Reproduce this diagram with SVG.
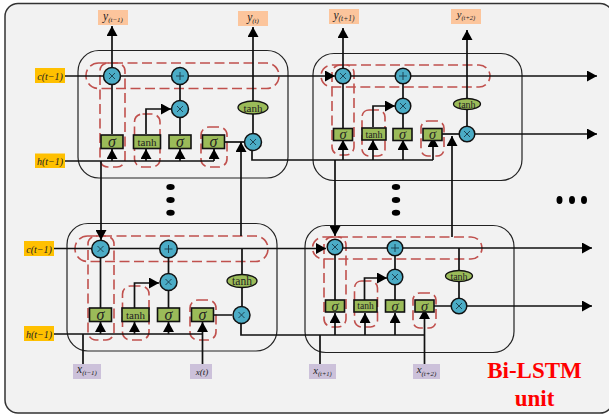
<svg xmlns="http://www.w3.org/2000/svg" width="609" height="416" viewBox="0 0 609 416">
<style>
text{font-family:"Liberation Serif","Times New Roman",serif;fill:#222;text-anchor:middle}
.i{font-style:italic}
.cell{fill:none;stroke:#222;stroke-width:1.2}
.dash{fill:none;stroke:#c0504d;stroke-width:1.6;stroke-dasharray:10 4.500}
.line{fill:none;stroke:#111;stroke-width:1.7}
.arrow{marker-end:url(#ah)}
.op{fill:#4bacc6;stroke:#111;stroke-width:1.5}
.glyph{fill:none;stroke:#1a3a4a;stroke-width:.9}
.box{fill:#9bbb59;stroke:#111;stroke-width:1.6}
.el{fill:#9bbb59;stroke:#111;stroke-width:1.3}
.y{fill:#fcc59c}.st{fill:#ffc000}.x{fill:#ccc1da}
.dot{fill:#000}
</style>
<defs>
<marker id="ah" markerUnits="userSpaceOnUse" markerWidth="11" markerHeight="11" refX="10" refY="5.500" orient="auto"><path d="M0 0L10 5.500L0 11Z" fill="#000"/></marker>
<g id="mul"><path class="glyph" d="M-3 -3L3 3M-3 3L3 -3"/></g>
<g id="add"><path class="glyph" d="M-4 0H4M0 -4V4"/></g>
</defs>
<rect x="5" y="3.500" width="608" height="409.500" rx="13" fill="#f2f2f2" stroke="#333" stroke-width="1.500"/>
<g id="cells">
<rect class="cell" x="78" y="50.500" width="210" height="127.500" rx="21"/>
<rect class="cell" x="313" y="53.500" width="209" height="127" rx="21"/>
<rect class="cell" x="67" y="223.500" width="210" height="127.500" rx="21"/>
<rect class="cell" x="305" y="225.500" width="209" height="127" rx="21"/>
</g>
<g id="regions">
<rect class="dash" x="86" y="63" width="193" height="25.500" rx="12.500"/>
<rect class="dash" x="100" y="63" width="25" height="104" rx="8"/>
<rect class="dash" x="134.500" y="114" width="25.500" height="53" rx="8"/>
<rect class="dash" x="201" y="127" width="26" height="40" rx="8"/>
<rect class="dash" x="321" y="65" width="169" height="22" rx="11"/>
<rect class="dash" x="332" y="65" width="22" height="90" rx="8"/>
<rect class="dash" x="362" y="110" width="23" height="46" rx="7"/>
<rect class="dash" x="421" y="121" width="23" height="35" rx="7"/>
<rect class="dash" x="75" y="236" width="193" height="25.500" rx="12.500"/>
<rect class="dash" x="88" y="236" width="26" height="104" rx="8"/>
<rect class="dash" x="122.500" y="286" width="26.500" height="54" rx="8"/>
<rect class="dash" x="190" y="300" width="26" height="40" rx="8"/>
<rect class="dash" x="312.500" y="237" width="169.500" height="22" rx="11"/>
<rect class="dash" x="324" y="237" width="22" height="90" rx="8"/>
<rect class="dash" x="354.500" y="281" width="23" height="46" rx="7"/>
<rect class="dash" x="413" y="293" width="23" height="35" rx="7"/>
</g>
<g id="connectors">
<path class="line arrow" d="M65 76H335"/>
<path class="line arrow" d="M343 76H597"/>
<path class="line arrow" d="M112 134V26"/>
<path class="line" d="M65 161H214"/>
<path class="line arrow" d="M112 161V149"/>
<path class="line arrow" d="M146 161V149"/>
<path class="line arrow" d="M180 161V149"/>
<path class="line arrow" d="M214 161V149"/>
<path class="line arrow" d="M146 134V109H171"/>
<path class="line" d="M180 134V85M253 134V100"/>
<path class="line arrow" d="M253 100V27"/>
<path class="line" d="M224 142H244"/>
<path class="line arrow" d="M241 236V142"/>
<path class="line" d="M252 151V160H433"/>
<path class="line arrow" d="M101 161V240"/>
<path class="line arrow" d="M343 128V28"/>
<path class="line arrow" d="M343 160V140"/>
<path class="line arrow" d="M373 160V140"/>
<path class="line arrow" d="M403 160V140"/>
<path class="line arrow" d="M433 160V137"/>
<path class="line arrow" d="M373 127V106H395"/>
<path class="line" d="M403 128V84M467 128V104"/>
<path class="line arrow" d="M467 104V30"/>
<path class="line" d="M442 134H459"/>
<path class="line arrow" d="M452 237V136"/>
<path class="line arrow" d="M467 134H597"/>
<path class="line arrow" d="M335 160V236"/>
<path class="line arrow" d="M54 248.500H326"/>
<path class="line arrow" d="M335 248H592"/>
<path class="line" d="M54 334H202M83 334V364"/>
<path class="line arrow" d="M100.500 334V322"/>
<path class="line arrow" d="M134.500 334V322"/>
<path class="line arrow" d="M168.500 334V322"/>
<path class="line arrow" d="M202.500 364V322"/>
<path class="line arrow" d="M134.500 308V283H159"/>
<path class="line" d="M100.500 308V258M168.500 308V258M242 306V249M213 315H232"/>
<path class="line" d="M241 324V335H424"/>
<path class="line" d="M320 335V364"/>
<path class="line arrow" d="M335 335V313"/>
<path class="line arrow" d="M365 335V313"/>
<path class="line arrow" d="M395 335V313"/>
<path class="line arrow" d="M424.500 364V309"/>
<path class="line arrow" d="M364.500 300V278H387"/>
<path class="line" d="M335 300V255M395 300V256M459 298V248M434 306H451"/>
<path class="line arrow" d="M459 306H592"/>
</g>
<g id="mul1"><circle class="op" cx="112" cy="76" r="8.500"/><use href="#mul" x="112" y="76"/></g>
<g id="add1"><circle class="op" cx="180" cy="76" r="8.500"/><use href="#add" x="180" y="76"/></g>
<g id="mul2"><circle class="op" cx="180" cy="109" r="8.500"/><use href="#mul" x="180" y="109"/></g>
<g id="mul3"><circle class="op" cx="253" cy="142" r="8.500"/><use href="#mul" x="253" y="142"/></g>
<g id="tanh1"><ellipse class="el" cx="253" cy="107.500" rx="15" ry="6.500"/><text x="253" y="111.500" font-size="11">tanh</text></g>
<g id="sig1"><rect class="box" x="101" y="135" width="22" height="13.500"/><text class="i" x="112" y="146.500" font-size="16">σ</text></g>
<g id="tanh2"><rect class="box" x="133.500" y="135" width="27" height="13.500"/><text x="147" y="145.500" font-size="11">tanh</text></g>
<g id="sig2"><rect class="box" x="169" y="135" width="22" height="13.500"/><text class="i" x="180" y="146.500" font-size="16">σ</text></g>
<g id="sig3"><rect class="box" x="202.500" y="135" width="22" height="13.500"/><text class="i" x="213.500" y="146.500" font-size="16">σ</text></g>
<g id="mul4"><circle class="op" cx="343" cy="76" r="7.800"/><use href="#mul" x="343" y="76"/></g>
<g id="add2"><circle class="op" cx="403" cy="76" r="7.800"/><use href="#add" x="403" y="76"/></g>
<g id="mul5"><circle class="op" cx="403" cy="106" r="7.800"/><use href="#mul" x="403" y="106"/></g>
<g id="mul6"><circle class="op" cx="467" cy="134" r="7.800"/><use href="#mul" x="467" y="134"/></g>
<g id="tanh3"><ellipse class="el" cx="467" cy="104" rx="13.500" ry="5.500"/><text x="467" y="107.500" font-size="10">tanh</text></g>
<g id="sig4"><rect class="box" x="333.500" y="128.500" width="19" height="12"/><text class="i" x="343" y="139" font-size="14.500">σ</text></g>
<g id="tanh4"><rect class="box" x="362" y="128" width="24" height="12"/><text x="374" y="137.500" font-size="10">tanh</text></g>
<g id="sig5"><rect class="box" x="393" y="128.500" width="19" height="12"/><text class="i" x="402.500" y="139" font-size="14.500">σ</text></g>
<g id="sig6"><rect class="box" x="423" y="128.500" width="19" height="12"/><text class="i" x="432.500" y="139" font-size="14.500">σ</text></g>
<g id="mul7"><circle class="op" cx="100.500" cy="249" r="8.800"/><use href="#mul" x="100.500" y="249"/></g>
<g id="add3"><circle class="op" cx="168.500" cy="249" r="8.800"/><use href="#add" x="168.500" y="249"/></g>
<g id="mul8"><circle class="op" cx="168.500" cy="282" r="8.500"/><use href="#mul" x="168.500" y="282"/></g>
<g id="mul9"><circle class="op" cx="241.500" cy="315" r="8.500"/><use href="#mul" x="241.500" y="315"/></g>
<g id="tanh5"><ellipse class="el" cx="242" cy="281" rx="15" ry="6.500"/><text x="242" y="285" font-size="11.500">tanh</text></g>
<g id="sig7"><rect class="box" x="89.500" y="308" width="22" height="13.500"/><text class="i" x="100.500" y="319.500" font-size="16">σ</text></g>
<g id="tanh6"><rect class="box" x="122" y="308" width="27" height="13.500"/><text x="135.500" y="318.500" font-size="11">tanh</text></g>
<g id="sig8"><rect class="box" x="157.500" y="308" width="22" height="13.500"/><text class="i" x="168.500" y="319.500" font-size="16">σ</text></g>
<g id="sig9"><rect class="box" x="191.500" y="308" width="22" height="13.500"/><text class="i" x="202.500" y="319.500" font-size="16">σ</text></g>
<g id="mul10"><circle class="op" cx="335" cy="247" r="7.800"/><use href="#mul" x="335" y="247"/></g>
<g id="add4"><circle class="op" cx="395" cy="248" r="7.800"/><use href="#add" x="395" y="248"/></g>
<g id="mul11"><circle class="op" cx="395" cy="277" r="7.800"/><use href="#mul" x="395" y="277"/></g>
<g id="mul12"><circle class="op" cx="459" cy="306" r="7.800"/><use href="#mul" x="459" y="306"/></g>
<g id="tanh7"><ellipse class="el" cx="459" cy="276" rx="13.500" ry="5.500"/><text x="459" y="279.500" font-size="10">tanh</text></g>
<g id="sig10"><rect class="box" x="325.500" y="300" width="19" height="12"/><text class="i" x="335" y="310.500" font-size="14.500">σ</text></g>
<g id="tanh8"><rect class="box" x="354" y="300" width="23" height="12"/><text x="365.500" y="309" font-size="9.500">tanh</text></g>
<g id="sig11"><rect class="box" x="385.500" y="300" width="19" height="12"/><text class="i" x="395" y="310.500" font-size="14.500">σ</text></g>
<g id="sig12"><rect class="box" x="415" y="300" width="19" height="12"/><text class="i" x="424.500" y="310.500" font-size="14.500">σ</text></g>
<g id="y0"><rect class="y" x="98" y="10" width="30" height="15"/><text class="i" x="113" y="20" font-size="11.500">y<tspan font-size="7" dy="2">(t−1)</tspan></text></g>
<g id="y1"><rect class="y" x="238" y="11" width="30" height="15"/><text class="i" x="253" y="21" font-size="11.500">y<tspan font-size="7" dy="2">(t)</tspan></text></g>
<g id="y2"><rect class="y" x="329" y="9" width="30" height="15"/><text class="i" x="344" y="19" font-size="11.500">y<tspan font-size="7.500" dy="2">(t+1)</tspan></text></g>
<g id="y3"><rect class="y" x="451" y="9" width="30" height="15"/><text class="i" x="466" y="18" font-size="10.500">y<tspan font-size="6.500" dy="2">(t+2)</tspan></text></g>
<g id="c0"><rect class="st" x="35" y="68" width="30" height="15"/><text class="i" x="50" y="79.500" font-size="10">c(t−1)</text></g>
<g id="h0"><rect class="st" x="35" y="153.500" width="30" height="14.500"/><text class="i" x="50" y="164.500" font-size="10">h(t−1)</text></g>
<g id="c1"><rect class="st" x="24" y="241" width="30" height="15"/><text class="i" x="39" y="252.500" font-size="10">c(t−1)</text></g>
<g id="h1"><rect class="st" x="24" y="326" width="30" height="15"/><text class="i" x="39" y="337.500" font-size="10">h(t−1)</text></g>
<g id="x0"><rect class="x" x="73" y="364" width="28" height="15"/><text class="i" x="87" y="372.500" font-size="11.500">x<tspan font-size="7" dy="2.500">(t−1)</tspan></text></g>
<g id="x1"><rect class="x" x="190" y="364" width="22" height="15"/><text class="i" x="202" y="375" font-size="9">x(t)</text></g>
<g id="x2"><rect class="x" x="309" y="364" width="27" height="15"/><text class="i" x="322.500" y="374" font-size="10.500">x<tspan font-size="6.500" dy="2">(t+1)</tspan></text></g>
<g id="x3"><rect class="x" x="413" y="364" width="27" height="15"/><text class="i" x="426.500" y="373" font-size="11">x<tspan font-size="7" dy="2.500">(t+2)</tspan></text></g>
<g id="dots">
<ellipse class="dot" cx="170.500" cy="187" rx="4.200" ry="3"/><ellipse class="dot" cx="170.500" cy="200" rx="4.200" ry="3"/><ellipse class="dot" cx="170.500" cy="212.700" rx="4.200" ry="3"/>
<ellipse class="dot" cx="396" cy="187" rx="4.200" ry="3"/><ellipse class="dot" cx="396" cy="200" rx="4.200" ry="3"/><ellipse class="dot" cx="396" cy="212.700" rx="4.200" ry="3"/>
<ellipse class="dot" cx="559.500" cy="200" rx="3" ry="4"/><ellipse class="dot" cx="572" cy="200" rx="3" ry="4"/><ellipse class="dot" cx="584" cy="200" rx="3" ry="4"/>
</g>
<g id="title"><text x="534.500" y="378" font-size="23" font-weight="bold" style="fill:#f00">Bi-LSTM</text><text x="534.500" y="406" font-size="23" font-weight="bold" style="fill:#f00">unit</text></g>
</svg>
